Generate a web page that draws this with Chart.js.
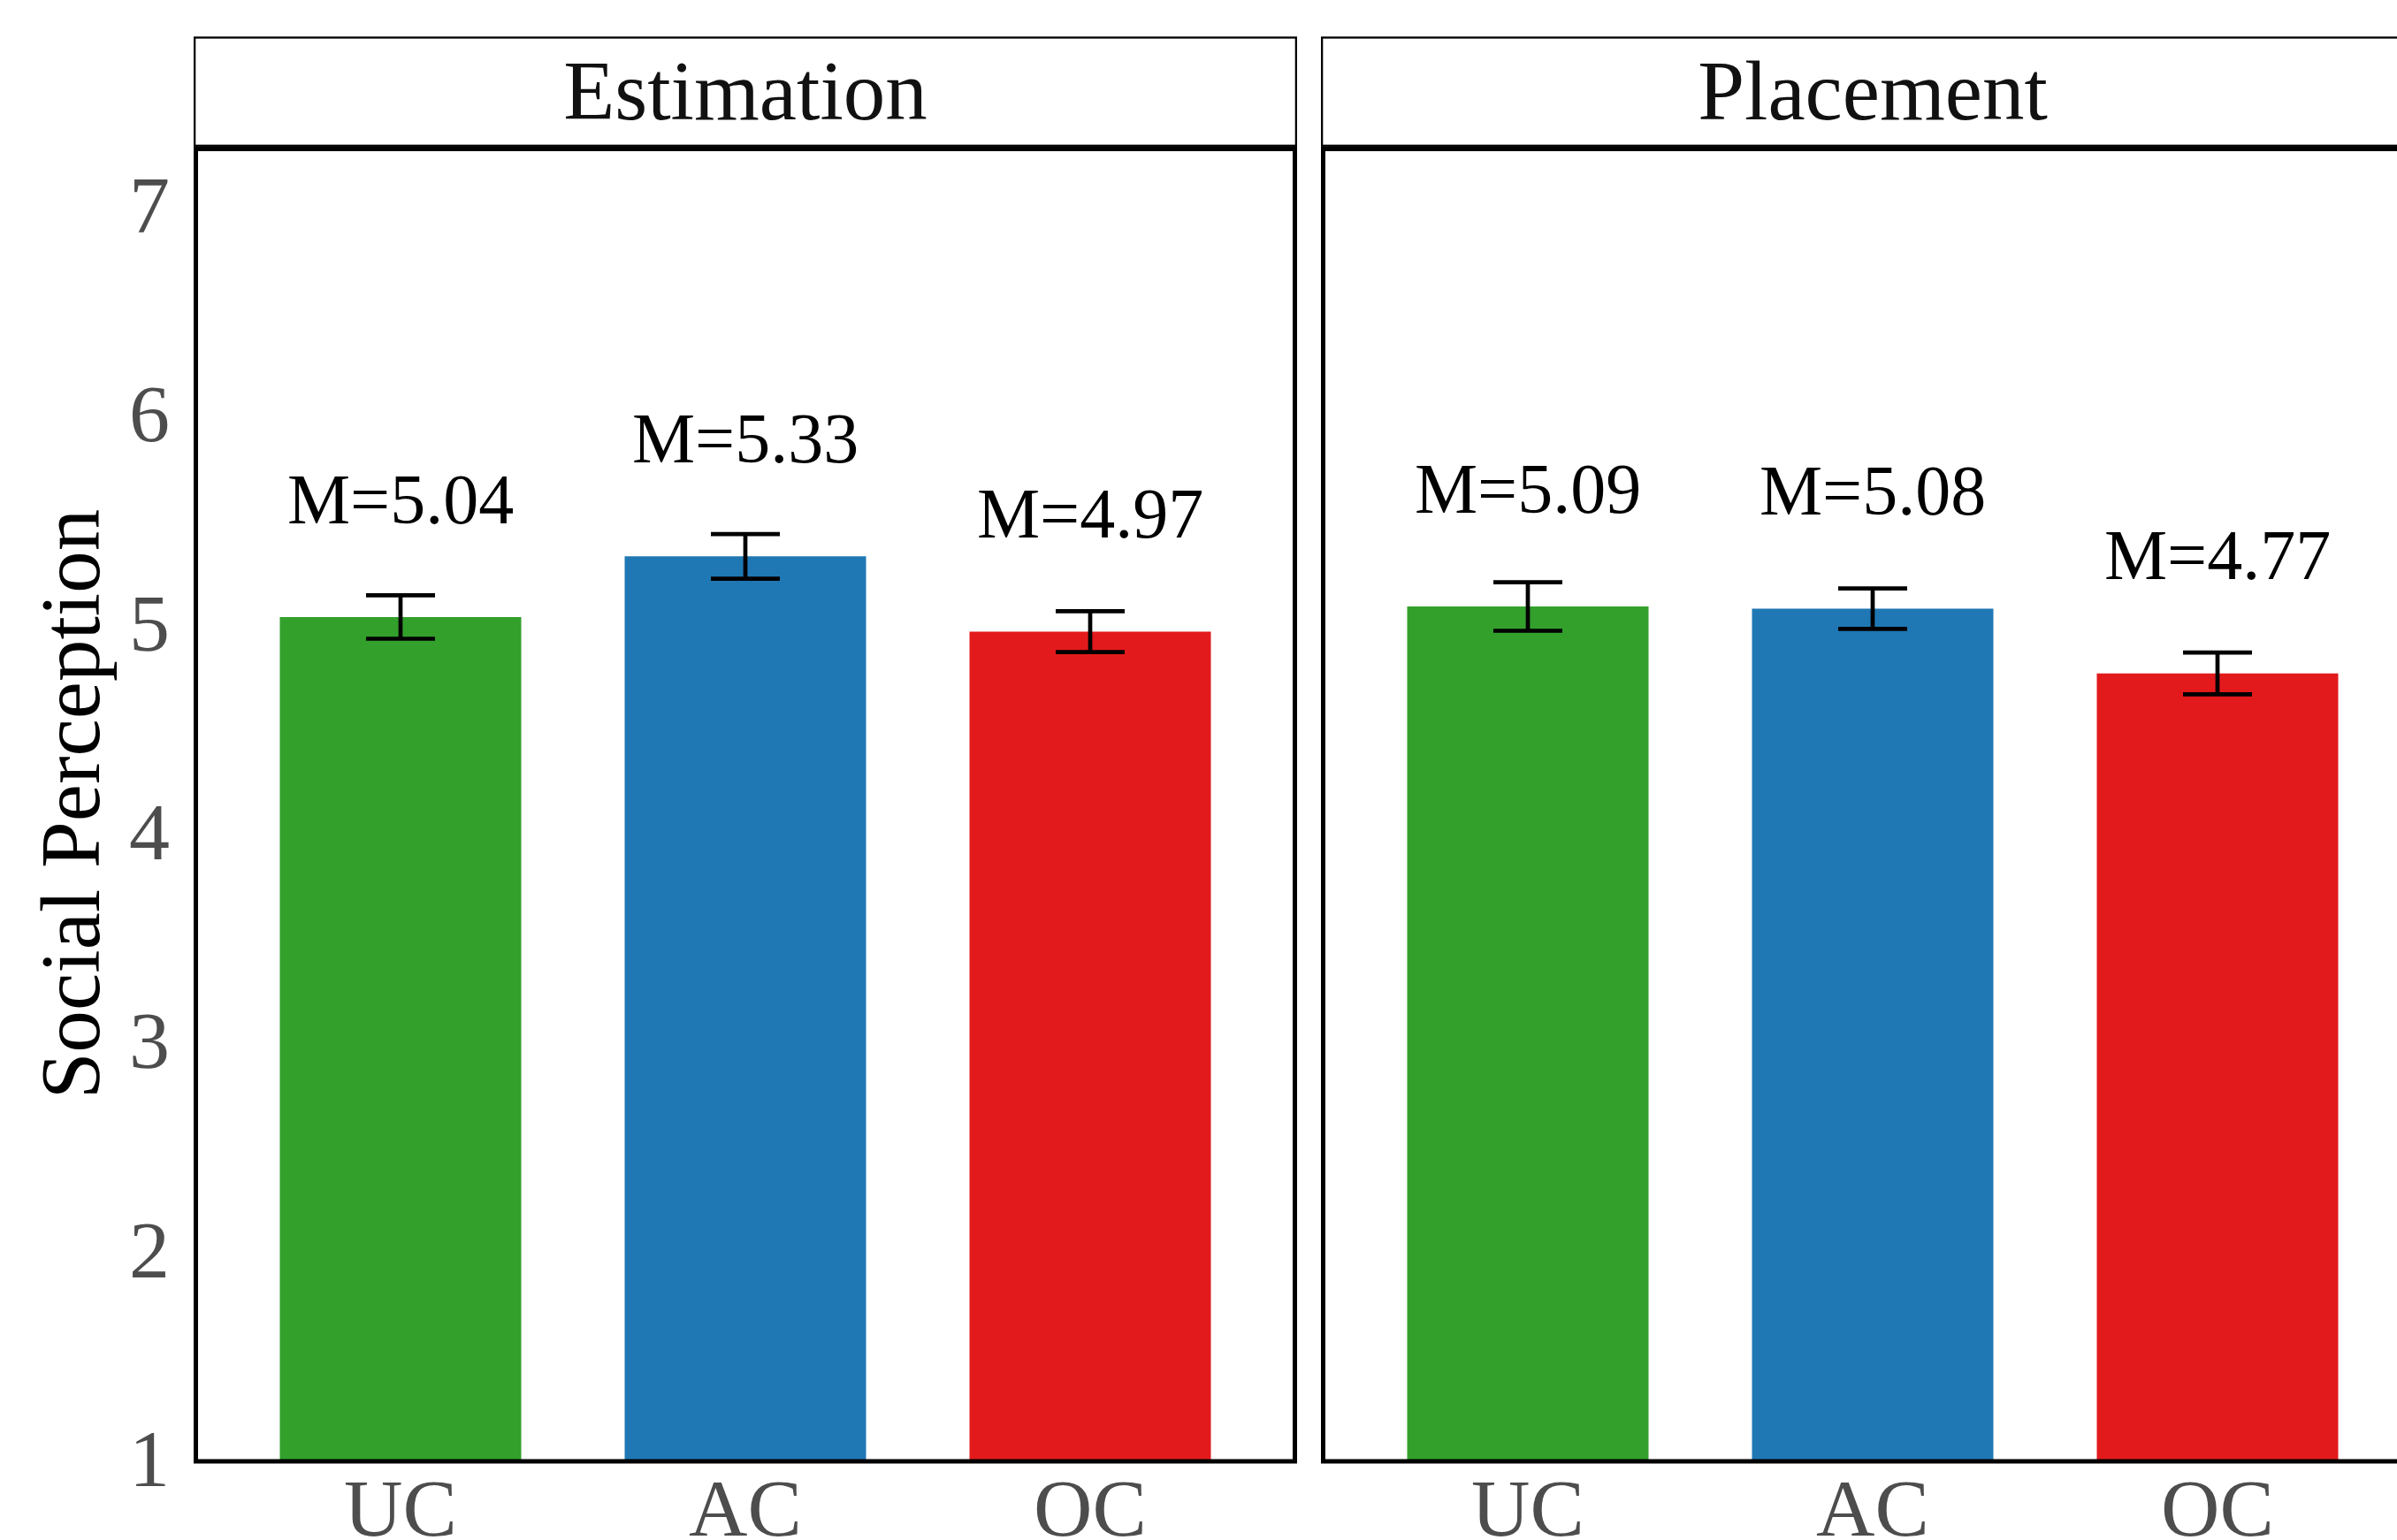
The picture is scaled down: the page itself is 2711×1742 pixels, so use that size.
<!DOCTYPE html>
<html>
<head>
<meta charset="utf-8">
<script src="https://cdn.jsdelivr.net/npm/chart.js@4.4.1/dist/chart.umd.min.js"></script>
<style>
  html, body { margin: 0; padding: 0; background: #fff; }
  #wrap { position: relative; width: 2711px; height: 1742px; overflow: hidden; background: #fff; }
  #wrap canvas { position: absolute; top: 0; }
</style>
</head>
<body>
<div id="wrap">
  <canvas id="estimation" width="1480" height="1800" style="left:0"></canvas>
  <canvas id="placement" width="1300" height="1800" style="left:1480px"></canvas>
</div>
<script>
const panels = ['Estimation', 'Placement'];
const conditions = ['UC', 'AC', 'OC'];
const estimationMeans = [5.04, 5.33, 4.97];
const estimationSE = [0.104, 0.107, 0.098];
const placementMeans = [5.09, 5.08, 4.77];
const placementSE = [0.116, 0.097, 0.100];
const barColors = ['#33a02c', '#1f78b4', '#e31a1c'];
const yTicks = [1, 2, 3, 4, 5, 6, 7];

const SERIF = '"Liberation Serif", "Times New Roman", serif';

function makePanel(canvasId, title, means, ses, showYAxis, padLeft, padRight) {
    // strip on top + frame round the panel, like a ggplot facet
    const facetFrame = {
        id: 'facetFrame',
        afterDraw(chart) {
            const ctx = chart.ctx;
            const {left, right, top, bottom} = chart.chartArea;
            ctx.save();
            ctx.strokeStyle = '#000';
            ctx.lineWidth = 2.3;
            ctx.strokeRect(left + 1.15, 42.5, right - left - 2.3, top - 1.2 - 42.5);
            ctx.lineWidth = 5;
            ctx.strokeRect(left + 2.5, top + 2.5, right - left - 5, bottom - top - 2.5);
            ctx.fillStyle = '#111';
            ctx.font = '95px ' + SERIF;
            ctx.textAlign = 'center';
            ctx.textBaseline = 'alphabetic';
            ctx.fillText(title, (left + right) / 2, 135);
            ctx.restore();
        }
    };

    // error bars and the "M=" labels, placed through the scales
    const errorBars = {
        id: 'errorBars',
        afterDatasetsDraw(chart) {
            const ctx = chart.ctx;
            const xs = chart.scales.x, ys = chart.scales.y;
            ctx.save();
            ctx.strokeStyle = '#000';
            ctx.lineWidth = 4.7;
            means.forEach((m, i) => {
                const x = xs.getPixelForValue(i + 1);
                const x0 = xs.getPixelForValue(i + 1 - 0.1);
                const x1 = xs.getPixelForValue(i + 1 + 0.1);
                const yHi = ys.getPixelForValue(m + ses[i]);
                const yLo = ys.getPixelForValue(m - ses[i]);
                ctx.beginPath();
                ctx.moveTo(x0, yHi); ctx.lineTo(x1, yHi);
                ctx.moveTo(x0, yLo); ctx.lineTo(x1, yLo);
                ctx.moveTo(x, yHi); ctx.lineTo(x, yLo);
                ctx.stroke();
            });
            ctx.fillStyle = '#000';
            ctx.font = '80px ' + SERIF;
            ctx.textAlign = 'center';
            ctx.textBaseline = 'alphabetic';
            means.forEach((m, i) => {
                ctx.fillText('M=' + m.toFixed(2), xs.getPixelForValue(i + 1), ys.getPixelForValue(m + 0.45));
            });
            ctx.restore();
        }
    };

    const ctx = document.getElementById(canvasId).getContext('2d');
    return new Chart(ctx, {
        type: 'bar',
        data: {
            datasets: [{
                data: means.map((m, i) => ({x: i + 1, y: m})),
                backgroundColor: barColors,
                borderWidth: 0,
                barPercentage: 0.7,
                categoryPercentage: 1.0
            }]
        },
        plugins: [facetFrame, errorBars],
        options: {
            responsive: false,
            animation: false,
            layout: {
                padding: {top: 166, right: padRight, bottom: 0, left: padLeft}
            },
            plugins: {
                legend: {display: false},
                tooltip: {enabled: false},
                title: {display: false}
            },
            scales: {
                x: {
                    type: 'linear',
                    offset: false,
                    min: 0.4,
                    max: 3.6,
                    grid: {display: false, drawTicks: false, offset: false},
                    border: {display: false},
                    afterBuildTicks: s => { s.ticks = conditions.map((_, i) => ({value: i + 1})); },
                    afterFit: s => { s.height = 147; },
                    ticks: {
                        autoSkip: false,
                        maxRotation: 0,
                        padding: 5,
                        color: '#4d4d4d',
                        font: {family: SERIF, size: 92},
                        callback: v => conditions[v - 1] || ''
                    }
                },
                y: {
                    display: showYAxis,
                    min: 1,
                    max: 7.29,
                    grid: {display: false, drawTicks: false},
                    border: {display: false},
                    afterBuildTicks: s => { s.ticks = yTicks.map(v => ({value: v})); },
                    afterFit: s => { if (showYAxis) s.width = 219; },
                    ticks: {
                        padding: 27,
                        labelOffset: 4,
                        color: '#4d4d4d',
                        font: {family: SERIF, size: 92}
                    },
                    title: {
                        display: showYAxis,
                        text: 'Social Perception',
                        color: '#000',
                        font: {family: SERIF, size: 95},
                        padding: {top: 30, bottom: 0}
                    }
                }
            }
        }
    });
}

makePanel('estimation', panels[0], estimationMeans, estimationSE, true, 0, 13);
makePanel('placement', panels[1], placementMeans, placementSE, false, 14, 38);
</script>
</body>
</html>
